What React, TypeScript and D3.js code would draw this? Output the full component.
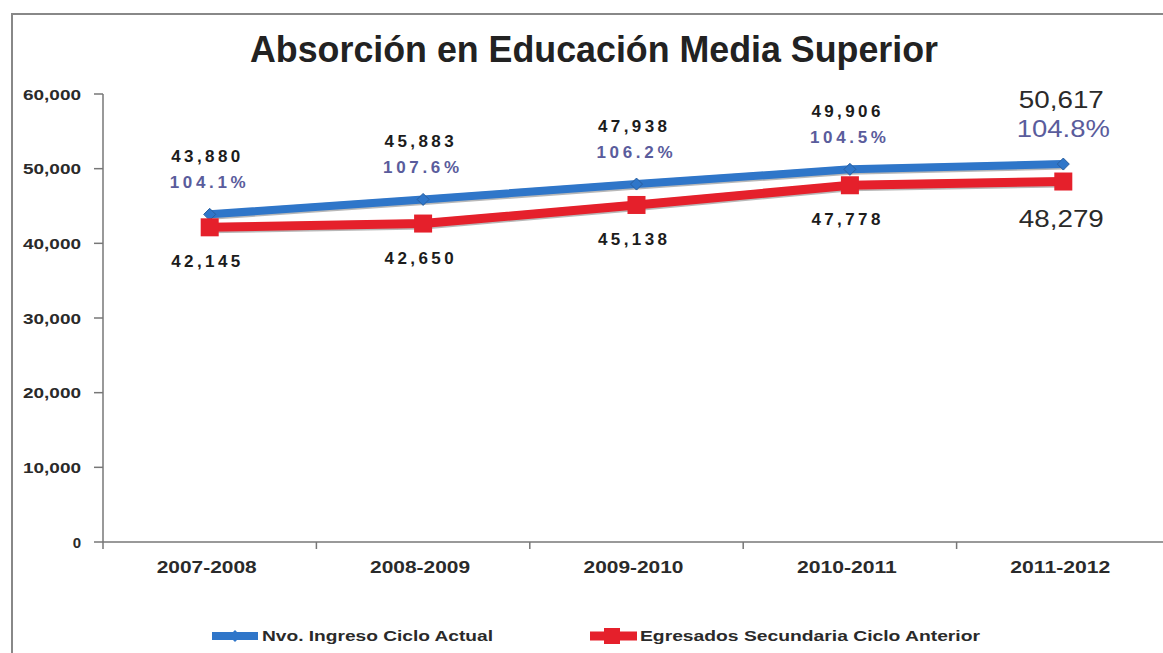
import React from "react";
import * as d3 from "d3";

const categories = ["2007-2008", "2008-2009", "2009-2010", "2010-2011", "2011-2012"];
const nuevoIngreso = [43880, 45883, 47938, 49906, 50617];
const egresados = [42145, 42650, 45138, 47778, 48279];
const absorcion = ["104.1%", "107.6%", "106.2%", "104.5%", "104.8%"];
const yTicks = [0, 10000, 20000, 30000, 40000, 50000, 60000];
const seriesNames = ["Nvo. Ingreso Ciclo Actual", "Egresados Secundaria Ciclo Anterior"];
const title = "Absorción en Educación Media Superior";

const W = 1163;
const H = 653;
const FONT = "'Liberation Sans', Arial, Helvetica, sans-serif";
const BLUE = "#2f76c9";
const RED = "#e5202b";
const PCT = "#5a5c9c";
const TXT = "#1c1c1c";

export default function App() {
  const x = d3.scalePoint<string>().domain(categories).range([103, 1170]).padding(0.5);
  const y = d3.scaleLinear().domain([0, 60000]).range([542, 94]);
  const fmt = d3.format(",");
  const line = d3
    .line<number>()
    .x((_, i) => x(categories[i]) as number)
    .y((d) => y(d));

  const diamond = (cx: number, cy: number, r: number) =>
    `M${cx},${cy - r}L${cx + r},${cy}L${cx},${cy + r}L${cx - r},${cy}Z`;

  return (
    <svg
      width={W}
      height={H}
      style={{ position: "absolute", left: 0, top: 0, display: "block", background: "#fff" }}
      fontFamily={FONT}
    >
      <rect x={0} y={0} width={W} height={H} fill="#fff" />
      <rect x={12} y={14} width={1170} height={660} fill="#fff" stroke="#888" strokeWidth={2} />

      {/* title */}
      <text x={594} y={62} textAnchor="middle" fontSize={36} fontWeight="bold" fill="#222"
        textLength={688} lengthAdjust="spacingAndGlyphs">
        {title}
      </text>

      {/* y axis */}
      <line x1={103} x2={103} y1={y(60000)} y2={y(0)} stroke="#777" strokeWidth={1.5} />
      {yTicks.map((t) => (
        <g key={t}>
          <line x1={94} x2={103} y1={y(t)} y2={y(t)} stroke="#777" strokeWidth={1.5} />
          <text x={81} y={y(t) + 5.5} textAnchor="end" fontSize={15} fontWeight="bold" fill="#2a2a2a"
            {...(t > 0 ? { textLength: 58, lengthAdjust: "spacingAndGlyphs" } : {})}>
            {fmt(t)}
          </text>
        </g>
      ))}

      {/* x axis */}
      <line x1={103} x2={1175} y1={y(0)} y2={y(0)} stroke="#777" strokeWidth={1.5} />
      {categories.map((c, i) => {
        const cx = x(c) as number;
        const step = x.step();
        return (
          <g key={c}>
            <line x1={cx + step / 2} x2={cx + step / 2} y1={y(0)} y2={y(0) + 7} stroke="#777" strokeWidth={1.5} />
            {i === 0 && <line x1={103} x2={103} y1={y(0)} y2={y(0) + 7} stroke="#777" strokeWidth={1.5} />}
            <text x={cx - 3} y={573} textAnchor="middle" fontSize={17} fontWeight="bold" fill="#2a2a2a"
              textLength={100} lengthAdjust="spacingAndGlyphs">
              {c}
            </text>
          </g>
        );
      })}

      {/* lines */}
      <path d={line(nuevoIngreso) as string} fill="none" stroke="#333" strokeOpacity={0.35} strokeWidth={9}
        transform="translate(1,1)" />
      <path d={line(nuevoIngreso) as string} fill="none" stroke={BLUE} strokeWidth={8} />
      {nuevoIngreso.map((v, i) => (
        <path key={"bm" + i} d={diamond(x(categories[i]) as number, y(v), 6)} fill={BLUE} stroke="#2a5f9e" strokeWidth={1} />
      ))}
      <path d={line(egresados) as string} fill="none" stroke="#333" strokeOpacity={0.35} strokeWidth={10}
        transform="translate(1,1)" />
      <path d={line(egresados) as string} fill="none" stroke={RED} strokeWidth={9} />
      {egresados.map((v, i) => (
        <rect key={"rm" + i} x={(x(categories[i]) as number) - 9} y={y(v) - 9} width={18} height={18} fill={RED} />
      ))}

      {/* labels */}
      {categories.map((c, i) => {
        const cx = x(c) as number;
        const last = i === categories.length - 1;
        const yb = y(nuevoIngreso[i]);
        const yr = y(egresados[i]);
        if (!last) {
          return (
            <g key={"l" + c}>
              <text x={cx - 4} y={yb - 52} textAnchor="middle" fontSize={17} fontWeight="bold" fill={TXT}
                textLength={69} lengthAdjust="spacing">
                {fmt(nuevoIngreso[i])}
              </text>
              <text x={cx - 2} y={yb - 26} textAnchor="middle" fontSize={17} fontWeight="bold" fill={PCT}
                textLength={76} lengthAdjust="spacing">
                {absorcion[i]}
              </text>
              <text x={cx - 4} y={yr + 40} textAnchor="middle" fontSize={17} fontWeight="bold" fill={TXT}
                textLength={69} lengthAdjust="spacing">
                {fmt(egresados[i])}
              </text>
            </g>
          );
        }
        return (
          <g key={"l" + c}>
            <text x={cx - 2} y={yb - 56} textAnchor="middle" fontSize={23} fill="#2a2a2a"
              textLength={85} lengthAdjust="spacingAndGlyphs">
              {fmt(nuevoIngreso[i])}
            </text>
            <text x={cx} y={yb - 27} textAnchor="middle" fontSize={23} fill={PCT}
              textLength={93} lengthAdjust="spacingAndGlyphs">
              {absorcion[i]}
            </text>
            <text x={cx - 2} y={yr + 45} textAnchor="middle" fontSize={23} fill="#2a2a2a"
              textLength={85} lengthAdjust="spacingAndGlyphs">
              {fmt(egresados[i])}
            </text>
          </g>
        );
      })}

      {/* legend */}
      <g>
        <line x1={212} x2={258} y1={636} y2={636} stroke={BLUE} strokeWidth={8} />
        <path d={diamond(235, 636, 6)} fill={BLUE} />
        <text x={262} y={641} fontSize={15} fontWeight="bold" fill="#2a2a2a" textLength={231} lengthAdjust="spacingAndGlyphs">
          {seriesNames[0]}
        </text>
        <line x1={590} x2={637} y1={636} y2={636} stroke={RED} strokeWidth={9} />
        <rect x={604} y={628} width={16} height={16} fill={RED} />
        <text x={640} y={641} fontSize={15} fontWeight="bold" fill="#2a2a2a" textLength={340} lengthAdjust="spacingAndGlyphs">
          {seriesNames[1]}
        </text>
      </g>
    </svg>
  );
}
